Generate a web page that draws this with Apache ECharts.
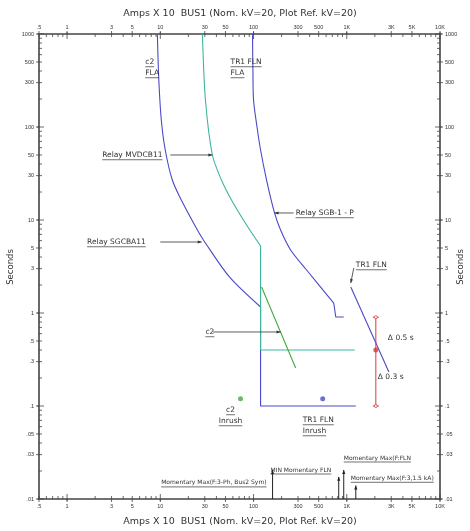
<!DOCTYPE html>
<html><head><meta charset="utf-8">
<script src="https://cdn.jsdelivr.net/npm/echarts@6/dist/echarts.min.js"></script>
<style>html,body{margin:0;padding:0;background:#fff}#c{width:470px;height:531px}</style>
</head><body><div id="c"></div>
<script>
const FONT = '"Liberation Sans", Arial, sans-serif';
const NFONT = '"DejaVu Sans", Verdana, sans-serif';

// ---- axis tick labels ----
const xTickValues = [0.5, 1, 3, 5, 10, 30, 50, 100, 300, 500, 1000, 3000, 5000, 10000];
const xTickLabels = ['.5', '1', '3', '5', '10', '30', '50', '100', '300', '500', '1K', '3K', '5K', '10K'];
const yTickValues = [1000, 500, 300, 100, 50, 30, 10, 5, 3, 1, 0.5, 0.3, 0.1, 0.05, 0.03, 0.01];
const yTickLabels = ['1000', '500', '300', '100', '50', '30', '10', '5', '3', '1', '.5', '.3', '.1', '.05', '.03', '.01'];
const xTitle = 'Amps X 10  BUS1 (Nom. kV=20, Plot Ref. kV=20)';
const yTitle = 'Seconds';

// ---- curves: [Amps X 10, seconds] ----
const relaySGCBA11Curve = [[9.3, 1000], [9.64, 320], [10.25, 119], [11.3, 56.6], [13.46, 26.9], [16.8, 16.4], [25.0, 7.8], [29.0, 6.1], [55.2, 2.44], [119, 1.16]];
const relaySGCBA11Inst = [[119, 1.16], [119, 0.1], [1250, 0.1]];
const relayMVDCB11Curve = [[28.3, 1000], [30.5, 195], [36.2, 50], [45.3, 26.9], [58, 16.4], [84.2, 8.83], [119, 5.25]];
const relayMVDCB11Inst = [[119, 5.25], [119, 0.4], [1220, 0.4]];
const relaySGB1PCurve = [[97.5, 1000], [98.5, 400], [100, 195], [109, 100], [119, 56.6], [138, 26.9], [168, 11.9], [195, 7.8], [250, 4.76], [371, 2.9], [725, 1.28]];
const relaySGB1PStep = [[725, 1.28], [762, 0.906], [928, 0.906]];
const tr1Damage = [[1104, 1.905], [2830, 0.232]];
const c2Damage = [[122, 1.905], [283, 0.256]];
const c2Inrush = [[72.5, 0.12]];
const tr1Inrush = [[552, 0.12]];
// coordination interval bar: [amps, top s, point s, bottom s]
const ctiBar = [[2050, 0.9, 0.4, 0.1]];
// short-circuit current markers: [amps, arrow tip seconds]
const scMarkers = [[160, 0.0205], [820, 0.0173], [928, 0.0205], [1250, 0.0140]];

// ---- annotations ----
const notes = [
  { text: ['c2', 'FLA'], at: [6.9, 500] },
  { text: ['TR1 FLN', 'FLA'], at: [56.7, 500] },
  { text: ['Relay MVDCB11'], at: [2.38, 50], arrow: [[12.8, 50], [36.2, 50]] },
  { text: ['Relay SGB-1 - P'], at: [283, 11.9], arrow: [[269, 11.9], [168, 11.9]] },
  { text: ['Relay SGCBA11'], at: [1.64, 5.8], arrow: [[10, 5.8], [27.8, 5.8]] },
  { text: ['TR1 FLN'], at: [1250, 3.28], arrow: [[1189, 3.05], [1104, 2.1]] },
  { text: ['c2'], at: [30.5, 0.625], arrow: [[37, 0.625], [195, 0.625]] },
  { text: ['\u0394 0.5 s'], at: [2760, 0.538], plain: true },
  { text: ['\u0394 0.3 s'], at: [2155, 0.205], plain: true },
  { text: ['c2', 'Inrush'], at: [56.7, 0.0906], align: 'center' },
  { text: ['TR1 FLN', 'Inrush'], at: [337, 0.0707] },
  { text: ['Momentary Max(F:3-Ph, Bus2 Sym)'], at: [138, 0.0149], align: 'right', size: 6 },
  { text: ['MIN Momentary FLN'], at: [152, 0.0205], size: 6 },
  { text: ['Momentary Max(F:FLN'], at: [928, 0.0276], size: 6 },
  { text: ['Momentary Max(F:3,1.5 kA)'], at: [1104, 0.0167], size: 6 }
];

const BLUE = '#4a4ac8', TEAL = '#3db5a0', GREEN = '#44a844', RED = '#d23c3c', INK = '#333';

const mctx = document.createElement('canvas').getContext('2d');
function textW(t, size) { mctx.font = size + 'px ' + NFONT; return mctx.measureText(t).width; }

function arrowHead(p, q, len, wid, color) {
  const dx = q[0] - p[0], dy = q[1] - p[1];
  const L = Math.sqrt(dx * dx + dy * dy) || 1;
  const ux = dx / L, uy = dy / L;
  const bx = q[0] - ux * len, by = q[1] - uy * len;
  return { type: 'polygon', shape: { points: [[q[0], q[1]], [bx - uy * wid, by + ux * wid], [bx + uy * wid, by - ux * wid]] }, style: { fill: color } };
}

function renderNote(params, api) {
  const n = notes[params.dataIndex];
  const p = api.coord(n.at);
  const size = n.size || 7.5;
  const lh = 11;
  const children = [];
  n.text.forEach((t, i) => {
    const w = textW(t, size);
    let x0 = p[0];
    if (n.align === 'right') x0 = p[0] - w; else if (n.align === 'center') x0 = p[0] - w / 2;
    const y = p[1] + i * lh;
    children.push({ type: 'text', x: x0, y: y, style: { text: t, fontSize: size, fontFamily: NFONT, fill: INK, align: 'left', verticalAlign: 'middle' } });
    if (!n.plain) children.push({ type: 'line', shape: { x1: x0, y1: y + size / 2 + 1, x2: x0 + w, y2: y + size / 2 + 1 }, style: { stroke: INK, lineWidth: 0.7 } });
  });
  if (n.arrow) {
    const a = api.coord(n.arrow[0]), b = api.coord(n.arrow[1]);
    children.push({ type: 'line', shape: { x1: a[0], y1: a[1], x2: b[0], y2: b[1] }, style: { stroke: INK, lineWidth: 0.8 } });
    children.push(arrowHead(a, b, 4, 1.5, INK));
  }
  return { type: 'group', children };
}

function renderAxes(params, api) {
  const children = [];
  const xMin = 0.5, xMax = 10000, yMin = 0.01, yMax = 1000;
  const top = api.coord([xMin, yMax])[1], bottom = api.coord([xMin, yMin])[1];
  const left = api.coord([xMin, yMin])[0], right = api.coord([xMax, yMin])[0];
  const line = (x1, y1, x2, y2, w) => children.push({ type: 'line', shape: { x1, y1, x2, y2 }, style: { stroke: '#444', lineWidth: w || 0.8 } });
  for (let e = -2; e <= 4; e++) {
    for (let m = 1; m <= 9; m++) {
      const v = m * Math.pow(10, e);
      const major = (m === 1);
      if (v >= xMin - 1e-9 && v <= xMax + 1e-9) {
        const x = api.coord([v, yMin])[0];
        const L = major ? 5 : 3;
        line(x, top, x, top + L); line(x, bottom, x, bottom - L);
        if (major) { line(x, top, x, top - 2); line(x, bottom, x, bottom + 2); }
      }
      if (v >= yMin - 1e-12 && v <= yMax + 1e-9) {
        const y = api.coord([xMin, v])[1];
        const L = major ? 5 : 3;
        line(left, y, left + L, y); line(right, y, right - L, y);
        if (major) { line(left, y, left - 2, y); line(right, y, right + 2, y); }
      }
    }
  }
  const lblStyle = (t, align) => ({ text: t, fontSize: 5.5, fontFamily: FONT, fill: INK, align: align, verticalAlign: 'middle' });
  xTickValues.forEach((v, i) => {
    const x = api.coord([v, yMin])[0];
    line(x, top, x, top - 3); line(x, bottom, x, bottom + 3);
    children.push({ type: 'text', x: x, y: top - 7, style: lblStyle(xTickLabels[i], 'center') });
    children.push({ type: 'text', x: x, y: bottom + 7, style: lblStyle(xTickLabels[i], 'center') });
  });
  yTickValues.forEach((v, i) => {
    const y = api.coord([xMin, v])[1];
    line(left, y, left - 3, y); line(right, y, right + 3, y);
    children.push({ type: 'text', x: left - 5, y: y, style: lblStyle(yTickLabels[i], 'right') });
    children.push({ type: 'text', x: right + 5, y: y, style: lblStyle(yTickLabels[i], 'left') });
  });
  return { type: 'group', children };
}

function renderSC(params, api) {
  const d = scMarkers[params.dataIndex];
  const a = api.coord([d[0], d[1]]), b = api.coord([d[0], 0.01]);
  return { type: 'group', children: [
    { type: 'line', shape: { x1: a[0], y1: b[1], x2: a[0], y2: a[1] }, style: { stroke: '#222', lineWidth: 1 } },
    arrowHead([a[0], a[1] + 6], a, 4, 1.6, '#222')
  ] };
}

function renderCTI(params, api) {
  const d = ctiBar[params.dataIndex];
  const t = api.coord([d[0], d[1]]), b = api.coord([d[0], d[3]]);
  return { type: 'group', children: [
    { type: 'line', shape: { x1: t[0], y1: t[1], x2: b[0], y2: b[1] }, style: { stroke: RED, lineWidth: 1 } },
    { type: 'line', shape: { x1: t[0] - 3, y1: t[1], x2: t[0] + 3, y2: t[1] }, style: { stroke: RED, lineWidth: 1 } },
    { type: 'line', shape: { x1: b[0] - 3, y1: b[1], x2: b[0] + 3, y2: b[1] }, style: { stroke: RED, lineWidth: 1 } },
    { type: 'circle', shape: { cx: t[0], cy: t[1], r: 1.5 }, style: { fill: '#fff', stroke: RED, lineWidth: 0.8 } },
    { type: 'circle', shape: { cx: b[0], cy: b[1], r: 1.5 }, style: { fill: '#fff', stroke: RED, lineWidth: 0.8 } }
  ] };
}

const lineS = (data, color, smooth, w) => ({ type: 'line', data, smooth: smooth ? 0.3 : false, showSymbol: false, symbol: 'none', lineStyle: { color, width: w || 1.1 }, z: 3, animation: false });

const chart = echarts.init(document.getElementById('c'));
chart.setOption({
  animation: false,
  backgroundColor: '#fff',
  grid: { left: 39, right: 30, top: 34, bottom: 32, show: true, borderColor: '#444', borderWidth: 1.6, backgroundColor: 'transparent' },
  xAxis: { type: 'log', logBase: 10, min: 0.5, max: 10000, axisLabel: { show: false }, axisTick: { show: false }, axisLine: { show: false }, splitLine: { show: false }, minorTick: { show: false } },
  yAxis: { type: 'log', logBase: 10, min: 0.01, max: 1000, axisLabel: { show: false }, axisTick: { show: false }, axisLine: { show: false }, splitLine: { show: false }, minorTick: { show: false } },
  graphic: [
    { type: 'text', x: 240, y: 14, style: { text: xTitle, fontSize: 9.5, fontFamily: NFONT, fill: INK, align: 'center', verticalAlign: 'middle' } },
    { type: 'text', x: 240, y: 522, style: { text: xTitle, fontSize: 9.5, fontFamily: NFONT, fill: INK, align: 'center', verticalAlign: 'middle' } },
    { type: 'text', x: 11, y: 267, rotation: Math.PI / 2, style: { text: yTitle, fontSize: 8.5, fontFamily: NFONT, fill: INK, align: 'center', verticalAlign: 'middle' } },
    { type: 'text', x: 461, y: 267, rotation: Math.PI / 2, style: { text: yTitle, fontSize: 8.5, fontFamily: NFONT, fill: INK, align: 'center', verticalAlign: 'middle' } }
  ],
  series: [
    { type: 'custom', renderItem: renderAxes, data: [[1, 1]], clip: false, silent: true, z: 1 },
    lineS(relaySGCBA11Curve, BLUE, true),
    lineS(relaySGCBA11Inst, BLUE, false),
    lineS(relayMVDCB11Curve, TEAL, true),
    lineS(relayMVDCB11Inst, TEAL, false),
    lineS(relaySGB1PCurve, BLUE, true),
    lineS(relaySGB1PStep, BLUE, false),
    lineS(tr1Damage, BLUE, false),
    lineS(c2Damage, GREEN, false),
    { type: 'custom', renderItem: renderCTI, data: ctiBar.map(d => [d[0], d[2]]), clip: false, z: 4 },
    { type: 'scatter', data: ctiBar.map(d => [d[0], d[2]]), symbol: 'circle', symbolSize: 5, itemStyle: { color: RED }, z: 5 },
    { type: 'scatter', data: c2Inrush, symbol: 'circle', symbolSize: 5, itemStyle: { color: GREEN }, z: 5 },
    { type: 'scatter', data: tr1Inrush, symbol: 'circle', symbolSize: 5, itemStyle: { color: BLUE }, z: 5 },
    { type: 'custom', renderItem: renderSC, data: scMarkers, clip: false, z: 4 },
    { type: 'custom', renderItem: renderNote, data: notes.map(n => n.at), clip: false, z: 6 }
  ]
});
</script></body></html>
